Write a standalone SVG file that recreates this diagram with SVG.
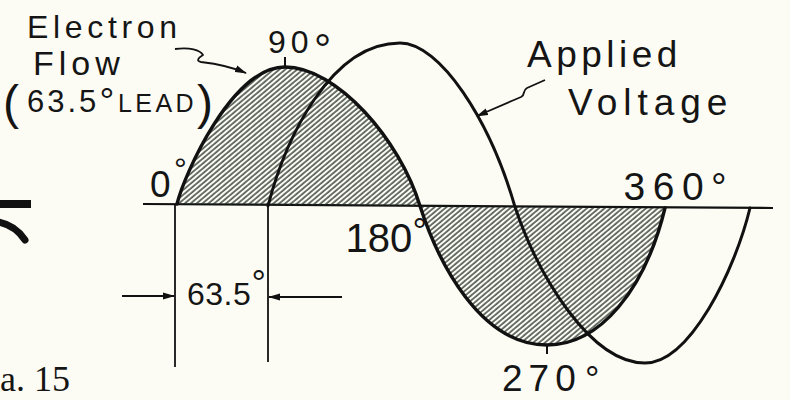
<svg xmlns="http://www.w3.org/2000/svg" width="790" height="400" viewBox="0 0 790 400">
<defs>
<pattern id="hatch" patternUnits="userSpaceOnUse" width="3.8" height="10" patternTransform="rotate(50)">
<line x1="1" y1="-1" x2="1" y2="11" stroke="#1e2a22" stroke-width="1.3"/>
</pattern>
<marker id="ah" viewBox="0 0 12 8" refX="11" refY="4" markerWidth="12" markerHeight="8" markerUnits="userSpaceOnUse" orient="auto">
<path d="M0,0.5 L12,4 L0,7.5 Z" fill="#111"/>
</marker>
</defs>
<style>
.t{font-family:"Liberation Sans",Arial,sans-serif;fill:#151515}
.s{font-family:"Liberation Serif","Times New Roman",serif;fill:#151515}
.curve{fill:none;stroke:#111;stroke-linecap:round;stroke-linejoin:round}
.thin{fill:none;stroke:#111;stroke-width:1.8}
.lead{fill:none;stroke:#111;stroke-width:1.8;stroke-linejoin:round}
</style>
<rect x="0" y="0" width="790" height="400" fill="#fcfcf4"/>

<g id="fragment">
<line x1="0" y1="204" x2="31" y2="204" stroke="#111" stroke-width="8"/>
<path d="M-2,222 Q15,225 25,240" fill="none" stroke="#111" stroke-width="7" stroke-linecap="round"/>
</g>

<g id="axis">
<line x1="143" y1="204" x2="773" y2="208" stroke="#111" stroke-width="2.2"/>
</g>

<g id="electron-flow">
<path d="M177,204 C184,175 232,67 285,67 C337,67 400,140 420,206 C438,262 480,345 547,345 C600,345 645,290 665,208 L177,204 Z" fill="url(#hatch)"/>
<path class="curve" stroke-width="3.4" d="M177,204 C184,175 232,67 285,67 C337,67 400,140 420,206 C438,262 480,345 547,345 C600,345 645,290 665,208"/>
<line x1="285" y1="57" x2="285" y2="67" stroke="#111" stroke-width="2"/>
<line x1="547" y1="345" x2="547" y2="354" stroke="#111" stroke-width="2"/>
</g>

<g id="applied-voltage">
<path class="curve" stroke-width="3" d="M268,206 C285,140 330,43 400,43 C440,43 490,120 515,207 C538,275 590,363 645,363 C690,363 735,270 750,208"/>
</g>

<g id="connectors">
<line class="thin" x1="175" y1="204" x2="175" y2="367"/>
<line class="thin" x1="268" y1="206" x2="268" y2="362"/>
<line class="thin" x1="122" y1="296" x2="174" y2="296" marker-end="url(#ah)"/>
<line class="thin" x1="342" y1="297" x2="269" y2="297" marker-end="url(#ah)"/>
<path class="lead" d="M175,49 C190,47 200,50 203,55 C198,58 196,61 201,62 C218,64 232,67 246,73" marker-end="url(#ah)"/>
<path class="lead" d="M545,80 L527,88 C522,91 526,94 521,97 L514,100 L477,116" marker-end="url(#ah)"/>
</g>

<g id="label-electron-flow">
<text class="t" x="27" y="38" font-size="32" textLength="150" lengthAdjust="spacing">Electron</text>
<text class="t" x="33" y="75" font-size="34" letter-spacing="5">Flow</text>
<text class="t" y="112"><tspan x="3" y="119" font-size="48">(</tspan><tspan x="27" y="112" font-size="31" letter-spacing="3">63.5</tspan><tspan x="99.5" y="114" font-size="37">°</tspan><tspan x="118" y="112" font-size="25" letter-spacing="3.4">LEAD</tspan><tspan x="197" y="119" font-size="48">)</tspan></text>
</g>

<g id="label-applied-voltage">
<text class="t" x="527" y="67" font-size="37" letter-spacing="4.5">Applied</text>
<text class="t" x="568" y="115" font-size="37" letter-spacing="6">Voltage</text>
</g>

<g id="degree-labels">
<text class="t" y="53"><tspan x="268" font-size="32" letter-spacing="5">90</tspan><tspan x="314" y="63.5" font-size="43">°</tspan></text>
<text class="t" y="197"><tspan x="150" font-size="37">0</tspan><tspan x="174" y="180" font-size="32">°</tspan></text>
<text class="t" y="252"><tspan x="345.6" font-size="40">180</tspan><tspan x="412.5" y="243.5" font-size="36">°</tspan></text>
<text class="t" y="200"><tspan x="623.5" font-size="39" letter-spacing="7.5">360</tspan><tspan x="711" y="200" font-size="39">°</tspan></text>
<text class="t" y="391"><tspan x="502" font-size="37" letter-spacing="6">270</tspan><tspan x="585" y="392" font-size="36">°</tspan></text>
<text class="t" y="305"><tspan x="187" font-size="32" letter-spacing="0.5">63.5</tspan><tspan x="251.5" y="296" font-size="36">°</tspan></text>
</g>

<g id="caption">
<text class="s" x="0" y="391" font-size="36">a. 15</text>
</g>
</svg>
